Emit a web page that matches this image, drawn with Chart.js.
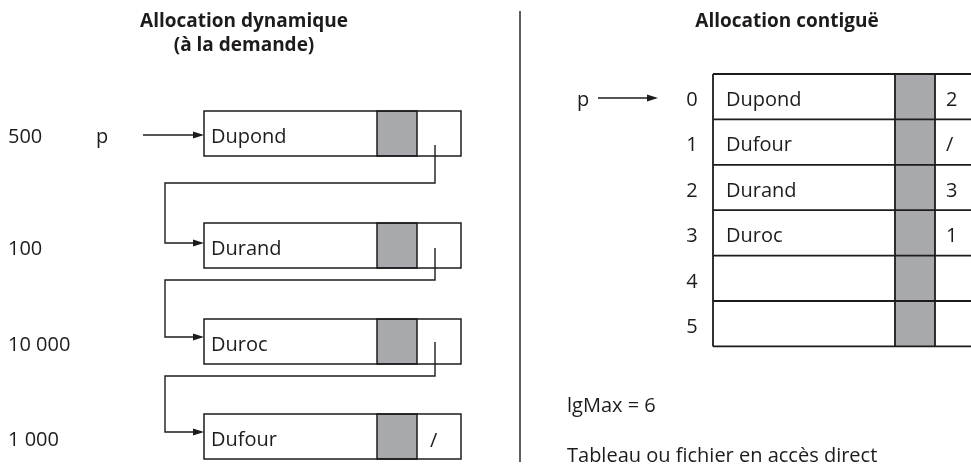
<!DOCTYPE html>
<html lang="fr">

<head>
    <meta charset="UTF-8">
    <title>Allocation dynamique / contiguë</title>
    <script src="https://cdn.jsdelivr.net/npm/chart.js"></script>
    <style>
        body {
            margin: 0;
            background-color: #ffffff;
        }

        .chart-box {
            width: 971px;
            height: 467px;
        }
    </style>
</head>

<body>
    <div class="chart-box">
        <canvas id="allocChart" width="971" height="467"></canvas>
    </div>

    <script>
        // --- data ---
        const dynAddresses = ['500', '100', '10 000', '1 000'];
        const dynNames = ['Dupond', 'Durand', 'Duroc', 'Dufour'];
        const dynNext = [1, 2, 3, null];          // index of the next record, null = end
        const tabIndex = ['0', '1', '2', '3', '4', '5'];
        const tabNames = ['Dupond', 'Dufour', 'Durand', 'Duroc', '', ''];
        const tabNext = ['2', '/', '3', '1', '', ''];
        const lgMax = 6;

        // --- layout (diagram units = pixels) ---
        const INK = '#1e1b1c';
        const GREY = '#a7a9ac';
        const FONT = '"Open Sans", "Noto Sans", sans-serif';

        const dyn = {
            boxLeft: 204, boxRight: 461, boxH: 45,
            greyLeft: 377, greyRight: 417,
            tops: [111, 223, 319, 414],
            arrowY: [135, 243, 337, 432],
            ptrX: 435, ptrStart: [145, 248, 342], ptrTurn: [183, 280, 376],
            backX: 165
        };
        const tab = {
            left: 713, right: 975, top: 74, rowH: 45.4,
            greyLeft: 895, greyRight: 935
        };

        // connector polylines built from the next-pointers
        const linkSets = [];
        dynNext.forEach(function(next, i) {
            if (next === null) return;
            linkSets.push({
                type: 'line',
                data: [
                    { x: dyn.ptrX, y: dyn.ptrStart[i] },
                    { x: dyn.ptrX, y: dyn.ptrTurn[i] },
                    { x: dyn.backX, y: dyn.ptrTurn[i] },
                    { x: dyn.backX, y: dyn.arrowY[next] },
                    { x: dyn.boxLeft - 8, y: dyn.arrowY[next] }
                ],
                borderColor: INK,
                borderWidth: 1.4,
                pointRadius: 0,
                tension: 0,
                fill: false
            });
        });

        function arrowHead(ctx, x, y) {
            ctx.beginPath();
            ctx.moveTo(x, y);
            ctx.lineTo(x - 11, y - 3.5);
            ctx.lineTo(x - 11, y + 3.5);
            ctx.closePath();
            ctx.fill();
        }

        function arrow(ctx, x1, x2, y) {
            ctx.beginPath();
            ctx.moveTo(x1, y);
            ctx.lineTo(x2 - 8, y);
            ctx.stroke();
            arrowHead(ctx, x2, y);
        }

        const diagramPlugin = {
            id: 'diagram',
            beforeDatasetsDraw: function(chart) {
                const ctx = chart.ctx;
                const sx = chart.scales.x, sy = chart.scales.y;
                const X = function(v) { return sx.getPixelForValue(v); };
                const Y = function(v) { return sy.getPixelForValue(v); };

                ctx.save();
                ctx.fillStyle = INK;
                ctx.strokeStyle = INK;

                // titles
                ctx.font = 'bold 19px ' + FONT;
                ctx.textAlign = 'center';
                ctx.textBaseline = 'alphabetic';
                ctx.fillText('Allocation dynamique', X(244), Y(27));
                ctx.fillText('(à la demande)', X(244), Y(51));
                ctx.fillText('Allocation contiguë', X(787), Y(27));

                // divider
                ctx.lineWidth = 1.4;
                ctx.beginPath();
                ctx.moveTo(X(520), Y(11));
                ctx.lineTo(X(520), Y(462));
                ctx.stroke();

                // --- dynamic allocation: linked records ---
                ctx.font = '20px ' + FONT;
                ctx.textAlign = 'left';
                dynNames.forEach(function(name, i) {
                    const top = dyn.tops[i];
                    ctx.fillStyle = GREY;
                    ctx.fillRect(X(dyn.greyLeft), Y(top), X(dyn.greyRight) - X(dyn.greyLeft), Y(top + dyn.boxH) - Y(top));
                    ctx.lineWidth = 1.5;
                    ctx.strokeRect(X(dyn.boxLeft), Y(top), X(dyn.boxRight) - X(dyn.boxLeft), Y(top + dyn.boxH) - Y(top));
                    ctx.strokeRect(X(dyn.greyLeft), Y(top), X(dyn.greyRight) - X(dyn.greyLeft), Y(top + dyn.boxH) - Y(top));
                    ctx.fillStyle = INK;
                    ctx.fillText(name, X(211), Y(top + 32));
                    ctx.fillText(dynAddresses[i], X(8), Y(top + 32));
                    if (dynNext[i] === null) ctx.fillText('/', X(430), Y(top + 33));
                    if (i > 0) arrowHead(ctx, X(dyn.boxLeft), Y(dyn.arrowY[i]));
                });
                ctx.fillText('p', X(96), Y(143));
                ctx.lineWidth = 1.4;
                arrow(ctx, X(143), X(dyn.boxLeft), Y(dyn.arrowY[0]));

                // --- contiguous allocation: table ---
                const rows = tabIndex.length;
                const bottom = tab.top + rows * tab.rowH;
                ctx.fillStyle = GREY;
                ctx.fillRect(X(tab.greyLeft), Y(tab.top), X(tab.greyRight) - X(tab.greyLeft), Y(bottom) - Y(tab.top));
                ctx.lineWidth = 1.8;
                ctx.beginPath();
                for (let r = 0; r <= rows; r++) {
                    const yy = Y(tab.top + r * tab.rowH);
                    ctx.moveTo(X(tab.left), yy);
                    ctx.lineTo(X(tab.right), yy);
                }
                [tab.left, tab.greyLeft, tab.greyRight].forEach(function(xx) {
                    ctx.moveTo(X(xx), Y(tab.top));
                    ctx.lineTo(X(xx), Y(bottom));
                });
                ctx.stroke();

                ctx.fillStyle = INK;
                tabIndex.forEach(function(idx, r) {
                    const base = Y(tab.top + r * tab.rowH + 32);
                    ctx.textAlign = 'center';
                    ctx.fillText(idx, X(692), base);
                    ctx.textAlign = 'left';
                    ctx.fillText(tabNames[r], X(726), base);
                    ctx.fillText(tabNext[r], X(946), base);
                });
                ctx.fillText('p', X(577), Y(106));
                ctx.lineWidth = 1.4;
                arrow(ctx, X(598), X(658), Y(98));

                ctx.fillText('lgMax = ' + lgMax, X(567), Y(412));
                ctx.fillText('Tableau ou fichier en accès direct', X(567), Y(462));

                ctx.restore();
            }
        };

        new Chart(document.getElementById('allocChart'), {
            type: 'scatter',
            data: { datasets: linkSets },
            options: {
                responsive: false,
                animation: false,
                events: [],
                layout: { padding: 0 },
                plugins: {
                    legend: { display: false },
                    tooltip: { enabled: false }
                },
                scales: {
                    x: { type: 'linear', min: 0, max: 971, display: false },
                    y: { type: 'linear', min: 0, max: 467, reverse: true, display: false }
                }
            },
            plugins: [diagramPlugin]
        });
    </script>
</body>

</html>
